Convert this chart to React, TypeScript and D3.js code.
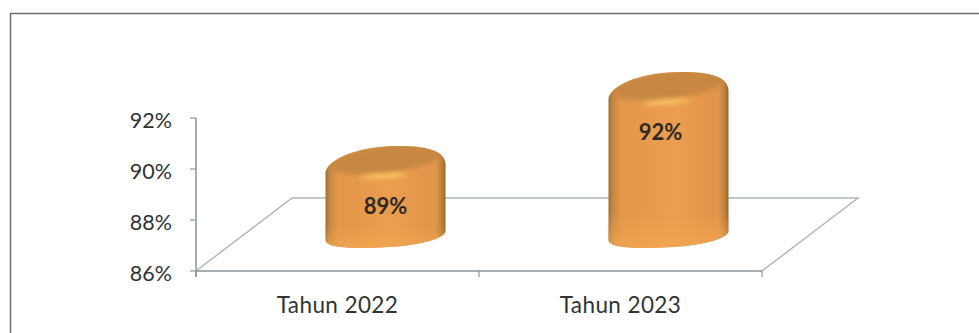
import React from "react";
import * as d3 from "d3";

const categories = ["Tahun 2022", "Tahun 2023"];
const values = [89, 92];
const tickValues = [86, 88, 90, 92];

const W = 979;
const H = 333;
const FONT = "Lato, 'Open Sans', sans-serif";

// Front wall of the plot and the depth of the receding floor
const plot = { left: 196, right: 762, top: 118, bottom: 271 };
const depth = { x: 96, y: -73 };

const y = d3.scaleLinear().domain([86, 92]).range([plot.bottom, plot.top]);
const x = d3.scaleBand<string>().domain(categories).range([plot.left, plot.right]);

// The cylinders stand mid-way across the floor, on a height scale of their own
const barBase = 237;
const barHeight = d3.scaleLinear().domain([86, 92]).range([0, 148]);

// Data labels sit at a fixed drop below the cap; the second one is nudged left
const labelDrop = 51;
const labelNudge = [0, -8];

// Silhouette of a bevelled cylinder, with rounded shoulders and foot
function bodyPath(cx: number, topY: number, baseY: number) {
  const p = d3.path();
  p.moveTo(cx - 60, topY + 10);
  p.bezierCurveTo(cx - 60, topY - 2, cx - 30, topY - 17, cx + 12, topY - 17);
  p.bezierCurveTo(cx + 40, topY - 17, cx + 60, topY - 13, cx + 60, topY + 2);
  p.lineTo(cx + 60, baseY - 6);
  p.bezierCurveTo(cx + 60, baseY + 2, cx + 30, baseY + 11, cx - 25, baseY + 11);
  p.bezierCurveTo(cx - 45, baseY + 11, cx - 60, baseY + 9, cx - 60, baseY + 3);
  p.closePath();
  return p.toString();
}

const Cylinder: React.FC<{ category: string; value: number; nudge: number; index: number }> = ({
  category,
  value,
  nudge,
  index,
}) => {
  const cx = (x(category) as number) + x.bandwidth() / 2 + depth.x / 2;
  const topY = barBase - barHeight(value);
  const outline = bodyPath(cx, topY, barBase);
  const clipId = `cylinderClip${index}`;
  return (
    <g>
      <clipPath id={clipId}>
        <path d={outline} />
      </clipPath>
      <path d={outline} fill="url(#cylinderSide)" />
      <path d={outline} fill="url(#cylinderFoot)" />
      <g clipPath={`url(#${clipId})`}>
        <ellipse
          rx={58}
          ry={14}
          transform={`translate(${cx + 1},${topY - 4}) rotate(-7)`}
          fill="#c98842"
          filter="url(#capEdge)"
        />
        <ellipse
          rx={24}
          ry={2.6}
          transform={`translate(${cx - 2},${topY + 13}) rotate(-4)`}
          fill="#f8c162"
          filter="url(#soft)"
        />
      </g>
      <text
        x={cx + nudge}
        y={topY + labelDrop}
        textAnchor="middle"
        fontFamily={FONT}
        fontWeight={700}
        fontSize={22}
        fill="#2e2a22"
      >
        {value}%
      </text>
    </g>
  );
};

export default function App() {
  const axisColor = "#8a9599";
  const floorColor = "#a9b6ba";
  return (
    <svg
      width={W}
      height={H}
      viewBox={`0 0 ${W} ${H}`}
      style={{ position: "absolute", left: 0, top: 0, background: "#fff" }}
    >
      <defs>
        <linearGradient id="cylinderSide" x1="0" x2="1" y1="0" y2="0">
          <stop offset="0" stopColor="#94703a" />
          <stop offset="0.03" stopColor="#c5853f" />
          <stop offset="0.1" stopColor="#e2974b" />
          <stop offset="0.55" stopColor="#ec9d50" />
          <stop offset="0.92" stopColor="#e0954a" />
          <stop offset="0.975" stopColor="#b97c3a" />
          <stop offset="1" stopColor="#8c6832" />
        </linearGradient>
        <linearGradient id="cylinderFoot" x1="0" x2="0" y1="1" y2="0.8">
          <stop offset="0" stopColor="#f2a650" stopOpacity="0.8" />
          <stop offset="1" stopColor="#f2a650" stopOpacity="0" />
        </linearGradient>
        <filter id="soft" x="-30%" y="-200%" width="160%" height="500%">
          <feGaussianBlur stdDeviation="2" />
        </filter>
        <filter id="capEdge" x="-10%" y="-40%" width="120%" height="180%">
          <feGaussianBlur stdDeviation="2" />
        </filter>
      </defs>

      {/* Outer frame */}
      <path d={`M10.5,${H}V13.5H${W}`} fill="none" stroke="#6f6f6f" strokeWidth={1.5} />

      {/* Floor */}
      <path
        d={`M${plot.left},${plot.bottom}L${plot.left + depth.x},${plot.bottom + depth.y}H${plot.right + depth.x}L${plot.right},${plot.bottom}`}
        fill="none"
        stroke={floorColor}
        strokeWidth={1.4}
      />

      {/* Value axis */}
      <line x1={plot.left} x2={plot.left} y1={plot.top} y2={plot.bottom + 6} stroke={axisColor} strokeWidth={1.5} />
      {tickValues.map((v) => (
        <g key={v}>
          <line x1={plot.left - 6} x2={plot.left} y1={y(v)} y2={y(v)} stroke={axisColor} strokeWidth={1.2} />
          <text
            x={plot.left - 24}
            y={y(v) + 2}
            dy="0.36em"
            textAnchor="end"
            fontFamily={FONT}
            fontSize={21.5}
            fill="#2f3436"
          >
            {v}%
          </text>
        </g>
      ))}

      {/* Category axis */}
      <line x1={plot.left} x2={plot.right} y1={plot.bottom} y2={plot.bottom} stroke={axisColor} strokeWidth={1.6} />
      {[...categories.map((c) => x(c) as number), plot.right].map((px) => (
        <line key={px} x1={px} x2={px} y1={plot.bottom} y2={plot.bottom + 6} stroke={axisColor} strokeWidth={1.2} />
      ))}
      {categories.map((c) => (
        <text
          key={c}
          x={(x(c) as number) + x.bandwidth() / 2}
          y={312.5}
          textAnchor="middle"
          fontFamily={FONT}
          fontSize={22.5}
          letterSpacing={0.4}
          fill="#2f3436"
        >
          {c}
        </text>
      ))}

      {categories.map((c, i) => (
        <Cylinder key={c} index={i} category={c} value={values[i]} nudge={labelNudge[i]} />
      ))}
    </svg>
  );
}
